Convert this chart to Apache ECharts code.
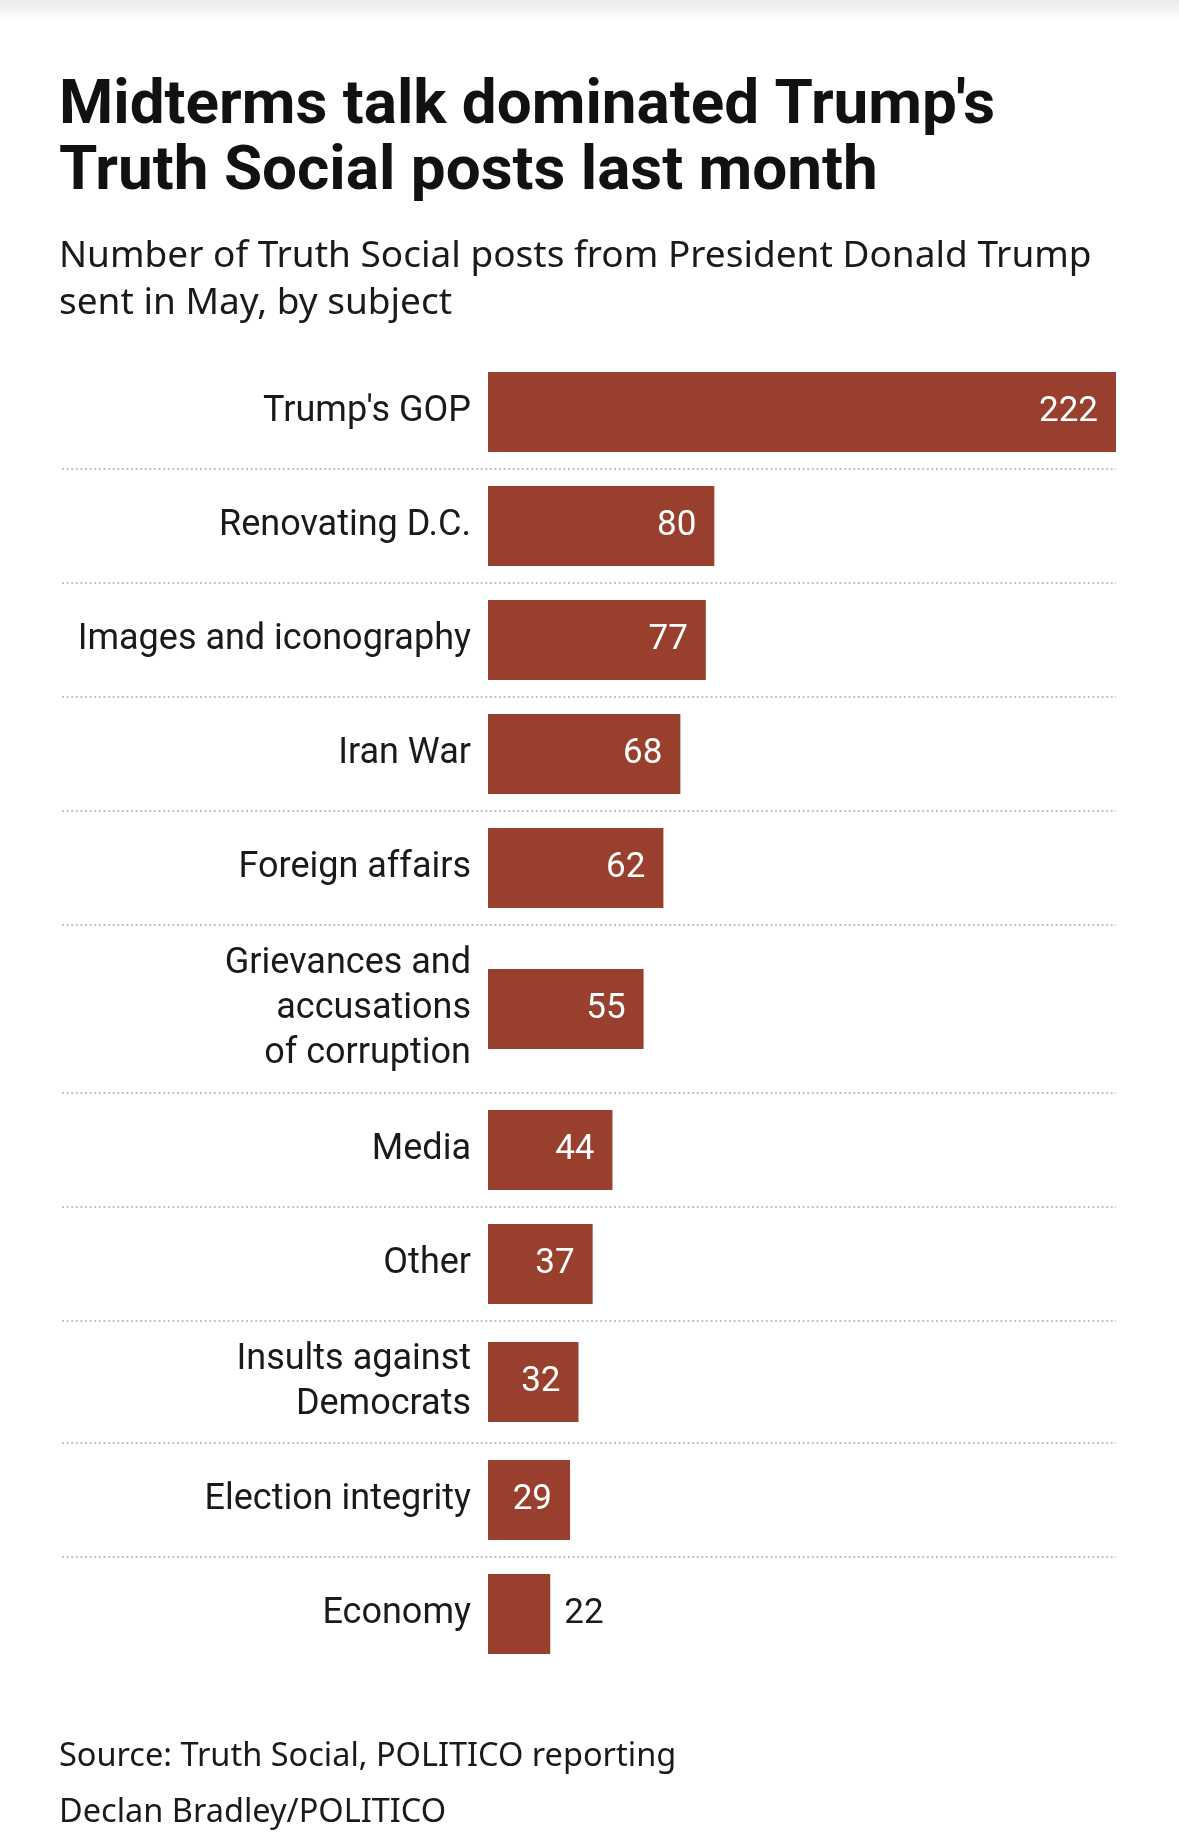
<!DOCTYPE html>
<html>
<head>
<meta charset="utf-8">
<script src="https://cdn.jsdelivr.net/npm/echarts@6/dist/echarts.min.js"></script>
<style>
  html, body { margin: 0; padding: 0; background: #ffffff; }
  #chart { width: 1179px; height: 1844px; }
</style>
</head>
<body>
<div id="chart"></div>
<script>
// ---- Data ----
const categories = [
  "Trump's GOP",
  "Renovating D.C.",
  "Images and iconography",
  "Iran War",
  "Foreign affairs",
  "Grievances and\naccusations\nof corruption",
  "Media",
  "Other",
  "Insults against\nDemocrats",
  "Election integrity",
  "Economy"
];
const values = [222, 80, 77, 68, 62, 55, 44, 37, 32, 29, 22];

const titleText = "Midterms talk dominated Trump's\nTruth Social posts last month";
const subtitleText = "Number of Truth Social posts from President Donald Trump\nsent in May, by subject";
const sourceText = "Source: Truth Social, POLITICO reporting";
const creditText = "Declan Bradley/POLITICO";

// ---- Layout / style ----
const FONT = "Roboto, 'Noto Sans', sans-serif";
const FONT_WIDE = "'Noto Sans', Roboto, sans-serif";
const BAR_COLOR = '#993f2d';
const PLOT_LEFT = 488, PLOT_RIGHT = 1116, RULE_LEFT = 62;
const FIRST_ROW_TOP = 355;
const BAR_H = 80;
const ROW_H = { 1: 114, 2: 122, 3: 168 };
const VALUE_MAX = Math.max(...values);

const chart = echarts.init(document.getElementById('chart'), null, { renderer: 'canvas' });

const grids = [], xAxes = [], yAxes = [], series = [], graphics = [];

graphics.push({
  type: 'rect', left: 0, top: 0, z: 100,
  shape: { width: 1179, height: 22 },
  style: {
    fill: new echarts.graphic.LinearGradient(0, 0, 0, 1, [
      { offset: 0, color: 'rgba(0,0,0,0.085)' },
      { offset: 1, color: 'rgba(0,0,0,0)' }
    ])
  },
  silent: true
});

let y = FIRST_ROW_TOP;
categories.forEach((cat, i) => {
  const lines = cat.split('\n').length;
  const h = ROW_H[lines] || 114;
  const barTop = y + (h - BAR_H) / 2;
  grids.push({ left: PLOT_LEFT, top: barTop, width: PLOT_RIGHT - PLOT_LEFT, height: BAR_H, containLabel: false });
  xAxes.push({ gridIndex: i, type: 'value', min: 0, max: VALUE_MAX, show: false });
  yAxes.push({
    gridIndex: i, type: 'category', data: [cat],
    axisLine: { show: false }, axisTick: { show: false }, splitLine: { show: false },
    axisLabel: {
      margin: 17, fontFamily: FONT, fontSize: 36, lineHeight: 45,
      color: '#1a1a1a', align: 'right', padding: [6, 0, 0, 0]
    }
  });
  const barPx = values[i] / VALUE_MAX * (PLOT_RIGHT - PLOT_LEFT);
  const inside = barPx > 70;
  series.push({
    type: 'bar', xAxisIndex: i, yAxisIndex: i,
    data: [values[i]], barWidth: BAR_H,
    itemStyle: { color: BAR_COLOR },
    silent: true,
    label: {
      show: true,
      position: inside ? 'insideRight' : 'right',
      distance: inside ? 18 : 14,
      fontFamily: FONT, fontSize: 35, padding: [6, 0, 0, 0],
      color: inside ? '#ffffff' : '#1a1a1a'
    }
  });
  y += h;
  if (i < categories.length - 1) {
    graphics.push({
      type: 'line', silent: true,
      shape: { x1: RULE_LEFT, y1: y, x2: PLOT_RIGHT, y2: y },
      style: { stroke: '#c4c4c4', lineWidth: 2, lineDash: [2, 2.6] }
    });
  }
});

chart.setOption({
  backgroundColor: '#ffffff',
  animation: false,
  title: [
    {
      text: titleText, left: 59, top: 74, padding: 0,
      textStyle: { fontFamily: FONT, fontSize: 62, fontWeight: 'bold', lineHeight: 66, color: '#111111' }
    },
    {
      text: subtitleText, left: 59, top: 233, padding: 0,
      textStyle: { fontFamily: FONT_WIDE, fontSize: 37, fontWeight: 'normal', lineHeight: 47, color: '#1a1a1a' }
    },
    {
      text: sourceText + '\n' + creditText, left: 59, top: 1729, padding: 0,
      textStyle: { fontFamily: FONT_WIDE, fontSize: 32.5, fontWeight: 'normal', lineHeight: 56, color: '#1a1a1a' }
    }
  ],
  grid: grids,
  xAxis: xAxes,
  yAxis: yAxes,
  series: series,
  graphic: graphics
});
</script>
</body>
</html>
